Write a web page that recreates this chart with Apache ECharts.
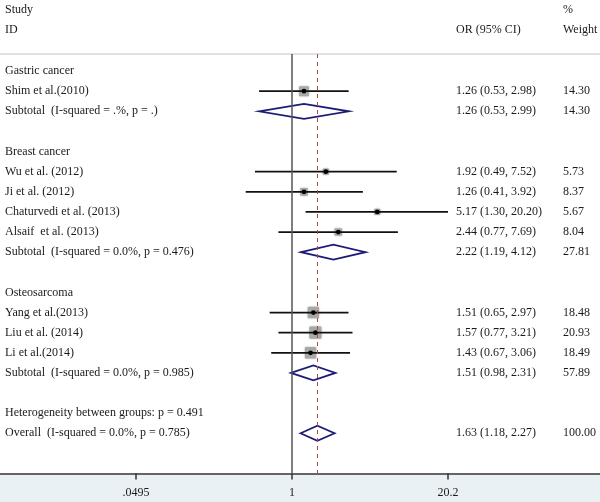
<!DOCTYPE html>
<html>
<head>
<meta charset="utf-8">
<script src="https://cdn.jsdelivr.net/npm/echarts@6/dist/echarts.min.js"></script>
<style>
  html, body { margin: 0; padding: 0; background: #fff; }
  #chart { width: 600px; height: 502px; }
</style>
</head>
<body>
<div id="chart"></div>
<script>
// rows of the forest plot, top to bottom
const rowLabels = [
  'Gastric cancer', 'Shim et al.(2010)', 'Subtotal  (I-squared = .%, p = .)', '',
  'Breast cancer', 'Wu et al. (2012)', 'Ji et al. (2012)', 'Chaturvedi et al. (2013)', 'Alsaif  et al. (2013)',
  'Subtotal  (I-squared = 0.0%, p = 0.476)', '',
  'Osteosarcoma', 'Yang et al.(2013)', 'Liu et al. (2014)', 'Li et al.(2014)',
  'Subtotal  (I-squared = 0.0%, p = 0.985)', '',
  'Heterogeneity between groups: p = 0.491', 'Overall  (I-squared = 0.0%, p = 0.785)'
]
const rowType = ['group', 'study', 'pooled', '', 'group', 'study', 'study', 'study', 'study', 'pooled', '',
  'group', 'study', 'study', 'study', 'pooled', '', 'group', 'pooled']
const oddsRatio = [null, 1.26, 1.26, null, null, 1.92, 1.26, 5.17, 2.44, 2.22, null, null, 1.51, 1.57, 1.43, 1.51, null, null, 1.63]
const ciLower = [null, 0.53, 0.53, null, null, 0.49, 0.41, 1.30, 0.77, 1.19, null, null, 0.65, 0.77, 0.67, 0.98, null, null, 1.18]
const ciUpper = [null, 2.98, 2.99, null, null, 7.52, 3.92, 20.20, 7.69, 4.12, null, null, 2.97, 3.21, 3.06, 2.31, null, null, 2.27]
const weights = [null, 14.30, 14.30, null, null, 5.73, 8.37, 5.67, 8.04, 27.81, null, null, 18.48, 20.93, 18.49, 57.89, null, null, 100.00]
const overallOR = 1.63
const tickValues = [0.0495, 1, 20.2]
const tickLabels = ['.0495', '1', '20.2']

const FONT = '12px "Liberation Serif", "Times New Roman", serif'
const TEXT = '#1a1a1a'
const lg = v => Math.log10(v)

const studyData = []
const pooledData = []
rowType.forEach((t, i) => {
  if (t === 'study') studyData.push([lg(oddsRatio[i]), i, lg(ciLower[i]), lg(ciUpper[i]), weights[i]])
  if (t === 'pooled') pooledData.push([lg(oddsRatio[i]), i, lg(ciLower[i]), lg(ciUpper[i])])
})
const textData = rowLabels.map((s, i) => [0, i])

const chart = echarts.init(document.getElementById('chart'))
chart.setOption({
  animation: false,
  grid: { left: 0, right: 0, top: 54, bottom: 28.5 },
  xAxis: {
    type: 'value',
    position: 'bottom',
    min: -2.4435,
    max: 2.5774,
    axisLine: { onZero: false, lineStyle: { color: '#333', width: 1.5 } },
    axisTick: { show: true, length: 6, lineStyle: { color: '#333', width: 1.5 }, customValues: tickValues.map(lg) },
    axisLabel: {
      customValues: tickValues.map(lg),
      margin: 13,
      color: TEXT,
      fontFamily: '"Liberation Serif", serif',
      fontSize: 12,
      formatter: v => {
        const k = tickValues.findIndex(t => Math.abs(lg(t) - v) < 1e-6)
        return k >= 0 ? tickLabels[k] : ''
      }
    },
    splitLine: { show: false }
  },
  yAxis: { type: 'value', min: -0.85, max: 20, inverse: true, show: false },
  graphic: [
    { type: 'rect', z: -10, shape: { x: 0, y: 474, width: 600, height: 28 }, style: { fill: '#eaf1f5' } },
    { type: 'line', shape: { x1: 0, y1: 54, x2: 600, y2: 54 }, style: { stroke: '#c4c4c4', lineWidth: 1 } },
    { type: 'text', style: { text: 'Study', x: 5, y: 10, font: FONT, fill: TEXT, verticalAlign: 'middle' } },
    { type: 'text', style: { text: 'ID', x: 5, y: 30, font: FONT, fill: TEXT, verticalAlign: 'middle' } },
    { type: 'text', style: { text: 'OR (95% CI)', x: 456, y: 30, font: FONT, fill: TEXT, verticalAlign: 'middle' } },
    { type: 'text', style: { text: '%', x: 563, y: 10, font: FONT, fill: TEXT, verticalAlign: 'middle' } },
    { type: 'text', style: { text: 'Weight', x: 563, y: 30, font: FONT, fill: TEXT, verticalAlign: 'middle' } }
  ],
  series: [
    {
      // reference lines: no effect (1) and overall estimate
      type: 'line',
      data: [],
      markLine: {
        silent: true,
        symbol: 'none',
        label: { show: false },
        data: [
          { xAxis: 0, lineStyle: { color: '#555', width: 1.5, type: 'solid' } },
          { xAxis: lg(overallOR), lineStyle: { color: '#b04a4a', width: 1, type: [4, 4] } }
        ]
      }
    },
    {
      // individual studies
      type: 'custom',
      clip: false,
      z: 3,
      data: studyData,
      renderItem: (params, api) => {
        const c = api.coord([api.value(0), api.value(1)])
        const a = api.coord([api.value(2), api.value(1)])
        const b = api.coord([api.value(3), api.value(1)])
        const s = 2.64 * Math.sqrt(api.value(4))
        return {
          type: 'group',
          children: [
            { type: 'rect', shape: { x: c[0] - s / 2, y: c[1] - s / 2, width: s, height: s, r: 1 },
              style: { fill: '#a8a8a8', shadowBlur: 2, shadowColor: 'rgba(0,0,0,0.3)' } },
            { type: 'line', shape: { x1: a[0], y1: a[1], x2: b[0], y2: b[1] }, style: { stroke: '#111', lineWidth: 1.8 } },
            { type: 'circle', shape: { cx: c[0], cy: c[1], r: 2.4 }, style: { fill: '#000' } }
          ]
        }
      }
    },
    {
      // pooled estimates
      type: 'custom',
      clip: false,
      z: 3,
      data: pooledData,
      renderItem: (params, api) => {
        const c = api.coord([api.value(0), api.value(1)])
        const a = api.coord([api.value(2), api.value(1)])
        const b = api.coord([api.value(3), api.value(1)])
        const h = 7.5
        return {
          type: 'polygon',
          shape: { points: [[a[0], a[1]], [c[0], c[1] - h], [b[0], b[1]], [c[0], c[1] + h]] },
          style: { fill: '#fff', stroke: '#1c1c78', lineWidth: 1.8 }
        }
      }
    },
    {
      // row text columns
      type: 'custom',
      clip: false,
      z: 4,
      data: textData,
      renderItem: (params, api) => {
        const i = params.dataIndex
        const y = api.coord([0, api.value(1)])[1]
        const kids = [
          { type: 'text', style: { text: rowLabels[i], x: 5, y: y, font: FONT, fill: TEXT, verticalAlign: 'middle' } }
        ]
        if (oddsRatio[i] != null) {
          kids.push({ type: 'text', style: {
            text: oddsRatio[i].toFixed(2) + ' (' + ciLower[i].toFixed(2) + ', ' + ciUpper[i].toFixed(2) + ')',
            x: 456, y: y, font: FONT, fill: TEXT, verticalAlign: 'middle' } })
          kids.push({ type: 'text', style: {
            text: weights[i].toFixed(2), x: 563, y: y, font: FONT, fill: TEXT, verticalAlign: 'middle' } })
        }
        return { type: 'group', children: kids }
      }
    }
  ]
})
</script>
</body>
</html>
